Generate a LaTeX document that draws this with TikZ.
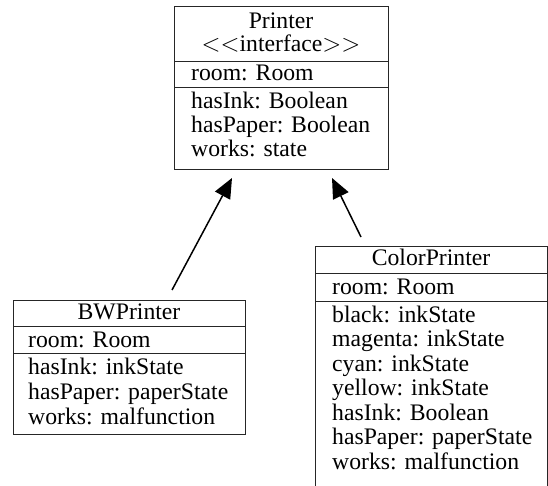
\documentclass[tikz,border=0pt]{standalone}
\usepackage{fontspec}
\setmainfont{Liberation Serif}
\usetikzlibrary{arrows.meta}
\begin{document}
\begin{tikzpicture}[x=1pt,y=-1pt,
  box/.style={draw=black!85, line width=0.9pt, inner sep=0pt, anchor=north west},
  sep/.style={draw=black!85, line width=0.9pt},
  attr/.style={anchor=base west, inner sep=0pt, font=\fontsize{23.7}{24}\selectfont},
  ttl/.style={anchor=base, inner sep=0pt, font=\fontsize{23.7}{24}\selectfont},
  inh/.style={line width=1.5pt, -{Triangle[length=20pt,width=17pt]}}]
\useasboundingbox (0,0) rectangle (548,486);
% Printer
\node[box, minimum width=214pt, minimum height=163pt] (P) at (174,6) {};
\draw[sep] (174,61) -- (388,61);
\draw[sep] (174,87) -- (388,87);
\node[ttl] (Pn) at (281,29) {Printer};
\node[ttl] (Pi) at (281,52) {$<<$interface$>>$};
\node[attr] (P1) at (191,81) {room: Room};
\node[attr] (P2) at (191,109) {hasInk: Boolean};
\node[attr] (P3) at (191,133) {hasPaper: Boolean};
\node[attr] (P4) at (191,157) {works: state};
% BWPrinter
\node[box, minimum width=232pt, minimum height=134pt] (B) at (13,300) {};
\draw[sep] (13,326) -- (245,326);
\draw[sep] (13,353) -- (245,353);
\node[ttl] (Bn) at (129,319) {BWPrinter};
\node[attr] (B1) at (28,347) {room: Room};
\node[attr] (B2) at (28,374) {hasInk: inkState};
\node[attr] (B3) at (28,399) {hasPaper: paperState};
\node[attr] (B4) at (28,424) {works: malfunction};
% ColorPrinter
\node[box, minimum width=232pt, minimum height=250pt] (C) at (315,246) {};
\draw[sep] (315,273) -- (547,273);
\draw[sep] (315,301) -- (547,301);
\node[ttl] (Cn) at (431,265) {ColorPrinter};
\node[attr] (C1) at (332,294) {room: Room};
\node[attr] (C2) at (332,322) {black: inkState};
\node[attr] (C3) at (332,346.5) {magenta: inkState};
\node[attr] (C4) at (332,371) {cyan: inkState};
\node[attr] (C5) at (332,395.5) {yellow: inkState};
\node[attr] (C6) at (332,420) {hasInk: Boolean};
\node[attr] (C7) at (332,444.5) {hasPaper: paperState};
\node[attr] (C8) at (332,469) {works: malfunction};
% inheritance arrows
\coordinate (t1) at (172,290);
\coordinate (h1) at (232,178);
\coordinate (t2) at (361,237);
\coordinate (h2) at (332,178);
\draw[inh] (t1) -- (h1);
\draw[inh] (t2) -- (h2);
\end{tikzpicture}
\end{document}
